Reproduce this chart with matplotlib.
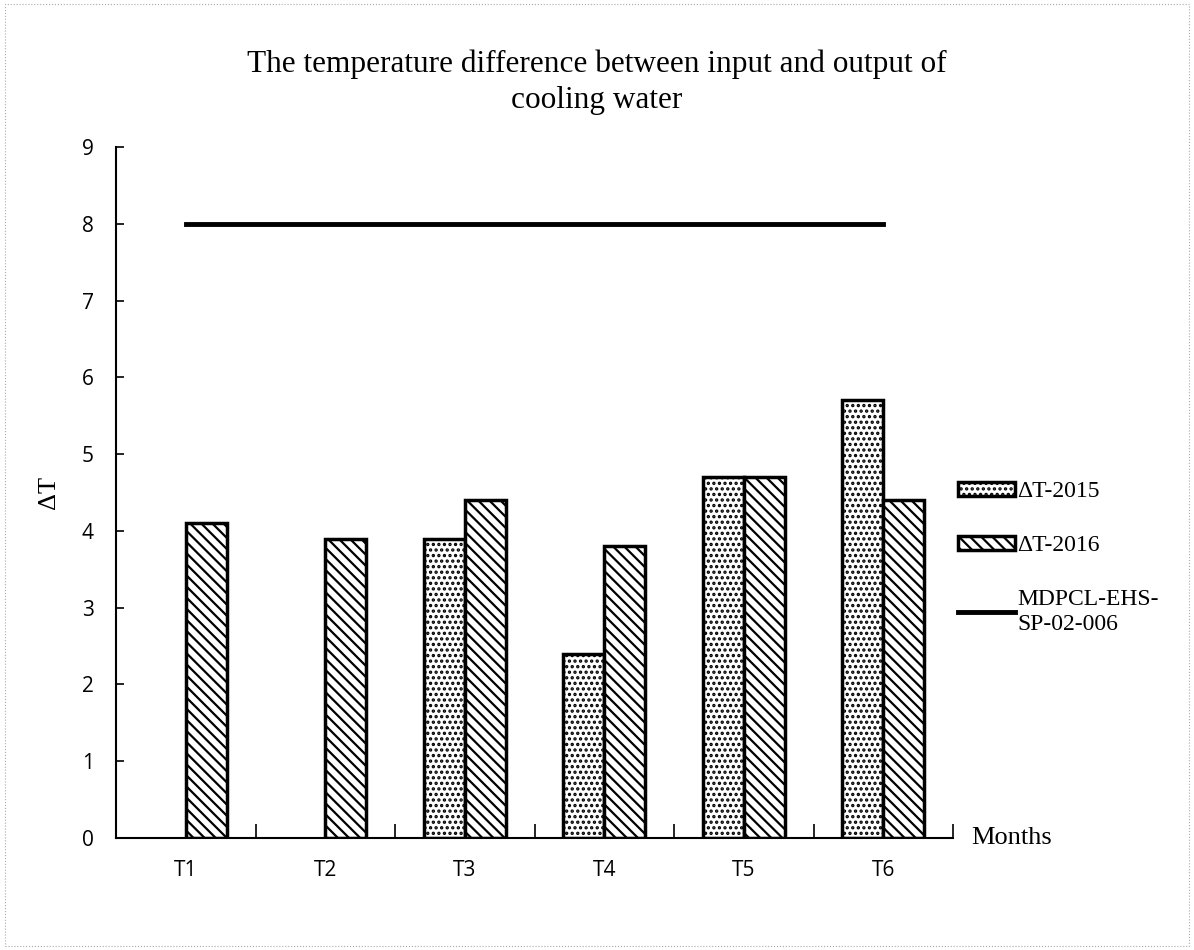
import numpy as np
import matplotlib.pyplot as plt
from matplotlib.patches import Rectangle

# data
months = ["T1", "T2", "T3", "T4", "T5", "T6"]
dt_2015 = [np.nan, np.nan, 3.9, 2.4, 4.7, 5.7]
dt_2016 = [4.1, 3.9, 4.4, 3.8, 4.7, 4.4]
limit = [8, 8, 8, 8, 8, 8]
yticks = [0, 1, 2, 3, 4, 5, 6, 7, 8, 9]

serif = "Liberation Serif"
sans = "Open Sans"

plt.rcParams["hatch.linewidth"] = 1.6

fig = plt.figure(figsize=(11.94, 9.5), dpi=100)
ax = fig.add_axes([0.0972, 0.1179, 0.701, 0.7274])

x = np.arange(len(months))
w = 0.295
b1 = ax.bar(x - w / 2, dt_2015, w, color="white", edgecolor="black", linewidth=2.5,
            hatch="...", label="ΔT-2015")
b2 = ax.bar(x + w / 2, dt_2016, w, color="white", edgecolor="black", linewidth=2.5,
            hatch="\\\\\\", label="ΔT-2016")
ln, = ax.plot(x, limit, color="black", linewidth=3.5, label="MDPCL-EHS-\nSP-02-006")

ax.set_xlim(-0.5, len(months) - 0.5)
ax.set_ylim(0, 9)
ax.set_yticks(yticks)
ax.set_yticklabels([str(v) for v in yticks], fontfamily=sans, fontsize=15)
ax.set_xticks(x)
ax.set_xticklabels(months, fontfamily=sans, fontsize=15)
ax.tick_params(axis="x", length=0, pad=16)
ax.tick_params(axis="y", direction="in", length=6, width=1.2, pad=16)
# category boundary ticks on the x axis
ax.set_xticks(np.arange(0.5, len(months), 1.0), minor=True)
ax.tick_params(axis="x", which="minor", direction="in", length=10, width=1.2)

for s in ["top", "right"]:
    ax.spines[s].set_visible(False)
for s in ["left", "bottom"]:
    ax.spines[s].set_linewidth(1.5)

ax.set_ylabel("ΔT", fontfamily=serif, fontsize=19, labelpad=16)
ax.text(1.022, 0, "Months", transform=ax.transAxes, fontfamily=serif,
        fontsize=19, va="center", ha="left")

fig.suptitle("The temperature difference between input and output of\ncooling water",
             fontfamily=serif, fontsize=22.5, y=0.948, linespacing=1.3)

leg = ax.legend(handles=[b1, b2, ln], loc="upper left", bbox_to_anchor=(0.995, 0.53),
                frameon=False, prop={"family": serif, "size": 17}, labelspacing=1.4,
                handlelength=2.4, handleheight=0.55, handletextpad=0.1, borderaxespad=0)

# faint scan border
fig.patches.append(Rectangle((0.004, 0.004), 0.992, 0.992, transform=fig.transFigure,
                             fill=False, edgecolor="#aaaaaa", linewidth=0.8,
                             linestyle=":"))

fig.savefig("out.png", dpi=100)
